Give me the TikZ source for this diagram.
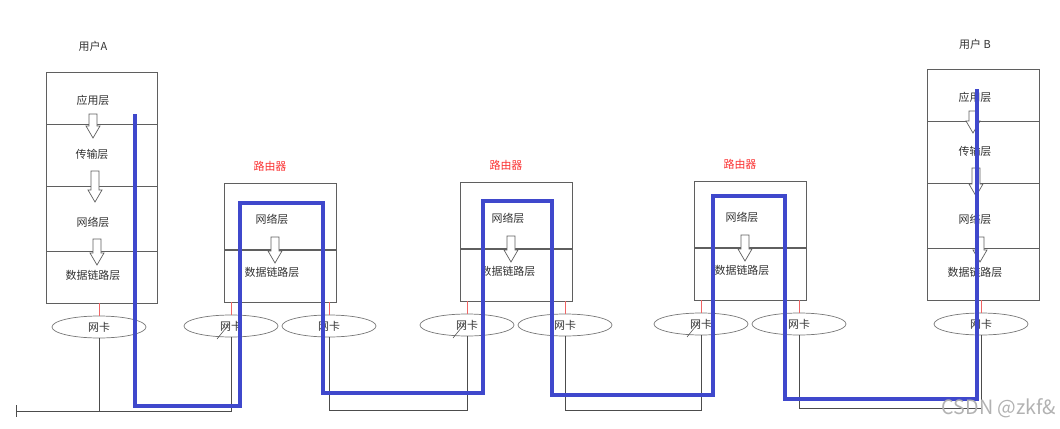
\documentclass[tikz,border=0pt]{standalone}
\usepackage{fontspec}
\setmainfont{Noto Sans CJK SC}
\usepackage{tikz}
\usetikzlibrary{shapes}
\usetikzlibrary{arrows}

\definecolor{pathblue}{RGB}{63,72,204}
\definecolor{boxgray}{RGB}{95,95,95}
\definecolor{tickred}{RGB}{240,100,100}
\definecolor{labelred}{RGB}{250,50,50}
\newcommand\px{0.025cm}
\newcommand\layerarrow[3]{\draw[hollow] ({#1-4},#2) -- ({#1+4},#2) -- ({#1+4},{#3-12}) -- ({#1+7},{#3-12}) -- (#1,#3) -- ({#1-7},{#3-12}) -- ({#1-4},{#3-12}) -- cycle;}

\begin{document}
\begin{tikzpicture}[x=\px,y=-\px]
					\tikzstyle{every node}=[font=\fontsize{7.8pt}{9pt}\selectfont,inner sep=0pt,text=black!80]
					\tikzstyle{layer}=[rectangle,draw=boxgray,line width=0.5pt,minimum width=112*\px]
					\tikzstyle{nic}=[ellipse,draw=boxgray!85,line width=0.5pt,minimum width=94*\px,minimum height=22*\px]
					\tikzstyle{hollow}=[draw=boxgray,fill=white,line width=0.5pt]
					\tikzstyle{tick}=[draw=tickred,line width=0.5pt]
					\tikzstyle{wire}=[draw=black!70,line width=0.6pt]
					\tikzstyle{routerlbl}=[text=labelred]
					\tikzstyle{route}=[draw=pathblue,line width=2.6pt,line join=miter]
					\useasboundingbox (0,0) rectangle (1060,428);
					
					% user A
					\node (A-lbl) at (93,46) {用户A};
					\node[layer,minimum width=111*\px,minimum height=52*\px] (A-app) at (101.5,98) {};
					\node[layer,minimum width=111*\px,minimum height=62*\px] (A-trans) at (101.5,155) {};
					\node[layer,minimum width=111*\px,minimum height=65*\px] (A-net) at (101.5,218.5) {};
					\node[layer,minimum width=111*\px,minimum height=52*\px] (A-link) at (101.5,277) {};
					\node (A-apptxt) at (93,100) {应用层};
					\node (A-transtxt) at (92,154) {传输层};
					\node (A-nettxt) at (93,222) {网络层};
					\node (A-linktxt) at (93,275) {数据链路层};
					\layerarrow{93}{114}{138}
					\layerarrow{95}{171}{202}
					\layerarrow{97}{239}{265}
					\node[nic] (A-nic) at (99,327) {网卡};
					\draw[tick] (A-nic.north) -- (A-nic.north |- A-link.south);
					
					% user B
					\node (B-lbl) at (975,44) {用户 B};
					\node[layer,minimum height=52*\px] (B-app) at (983,95) {};
					\node[layer,minimum height=62*\px] (B-trans) at (983,152) {};
					\node[layer,minimum height=65*\px] (B-net) at (983,215.5) {};
					\node[layer,minimum height=52*\px] (B-link) at (983,274) {};
					\node (B-apptxt) at (975,97) {应用层};
					\node (B-transtxt) at (975,151) {传输层};
					\node (B-nettxt) at (975,219) {网络层};
					\node (B-linktxt) at (975,272) {数据链路层};
					\layerarrow{973}{111}{133}
					\layerarrow{976}{168}{196}
					\layerarrow{980}{237}{262}
					\node[nic] (B-nic) at (981,324) {网卡};
					\draw[tick] (B-nic.north) -- (B-nic.north |- B-link.south);
					
					% routers
					\foreach \n/\cx/\top in {1/280/183,2/516/182,3/750/181}{
						\node[routerlbl] (R\n-lbl) at ({\cx-10},{\top-17}) {路由器};
						\node[layer,minimum height=66*\px,anchor=north] (R\n-net) at (\cx,\top) {};
						\node[layer,minimum height=52*\px,anchor=north] (R\n-link) at (R\n-net.south) {};
						\node (R\n-nettxt) at ({\cx-8},{\top+36}) {网络层};
						\node (R\n-linktxt) at ({\cx-8},{\top+89.5}) {数据链路层};
						\layerarrow{\cx-5}{\top+54}{\top+80}
						\node[nic] (R\n-nicL) at ({\cx-49},{\top+143}) {网卡};
						\node[nic] (R\n-nicR) at ({\cx+49},{\top+143}) {网卡};
						\draw[tick] (R\n-nicL.north) -- (R\n-nicL.north |- R\n-link.south);
						\draw[tick] (R\n-nicR.north) -- (R\n-nicR.north |- R\n-link.south);
						\draw[black!70,line width=0.4pt] (R\n-nicL.center) ++(-14,13) -- ++(13,-16);
					}
					
					% cables
					\coordinate (wireL) at (16,411);
					\draw[wire] (wireL) ++(0,-6) -- ++(0,12);
					\draw[wire] (A-nic.south) -- (A-nic.south |- wireL);
					\draw[wire] (wireL) -| (R1-nicL.south);
					\draw[wire] (R1-nicR.south) -- ++(0,73) -| (R2-nicL.south);
					\draw[wire] (R2-nicR.south) -- ++(0,74) -| (R3-nicL.south);
					\draw[wire] (R3-nicR.south) -- ++(0,73) -| (B-nic.south);
					
					% data path
					\coordinate (startA) at (135,114);
					\coordinate (endB) at (977,89);
					\draw[route] (startA) -- (135,406) -- (240,406) -- (240,203) -- (323,203) -- (323,393)
						-- (483,393) -- (483,201) -- (552,201) -- (552,395) -- (713,395) -- (713,196)
						-- (785,196) -- (785,399) -- (977,399) -- (endB);
					
					\node[text=black!30,font=\fontsize{14pt}{16pt}\selectfont] (mark) at (999,408) {CSDN @zkf\&};
					;\end{tikzpicture}
\end{document}
